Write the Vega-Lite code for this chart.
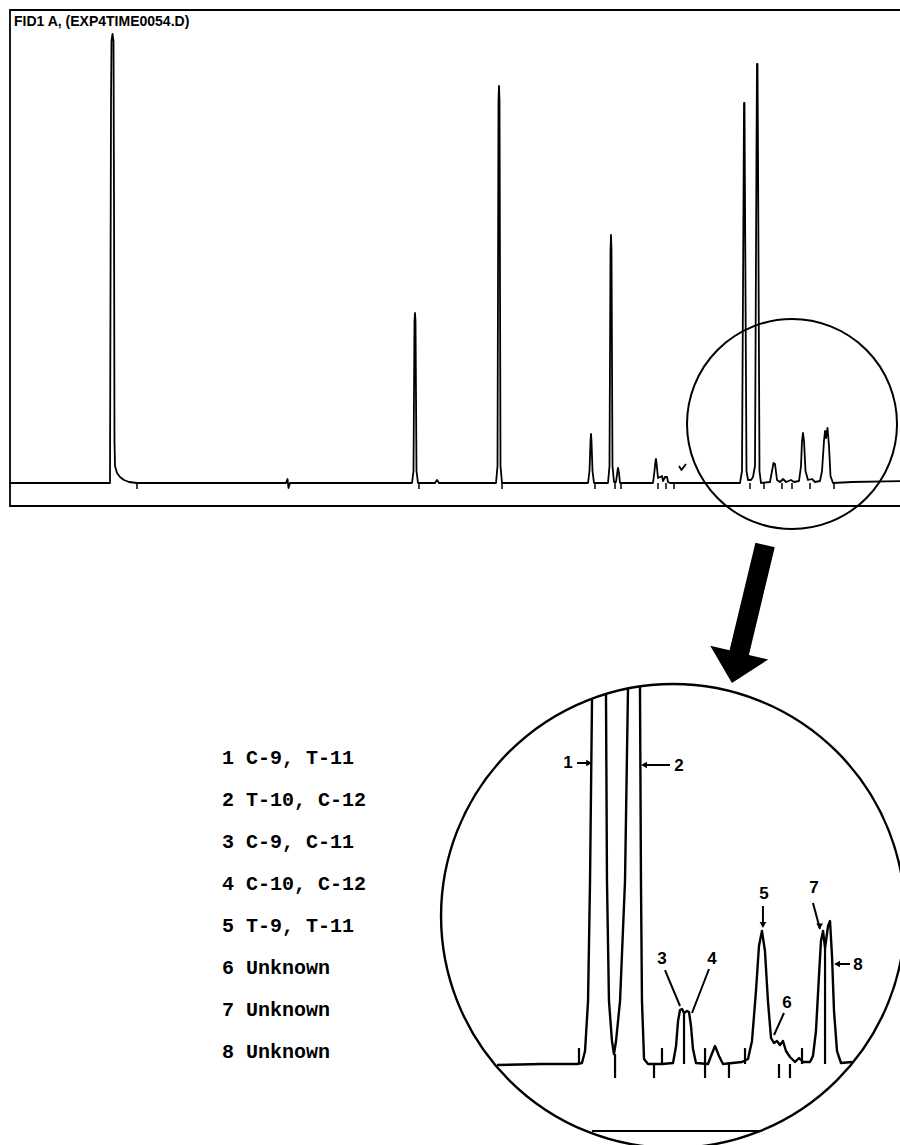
{
  "$schema": "https://vega.github.io/schema/vega-lite/v6.json",
  "background": "white",
  "padding": {"left": 8, "top": 9, "right": 0, "bottom": 0},
  "spacing": 0,
  "bounds": "flush",
  "config": {"view": {"stroke": null}},
  "datasets": {
    "topTrace": [
      {"t": 0, "s": 0, "seg": "trace"}, {"t": 3.333, "s": 0, "seg": "trace"}, {"t": 3.367, "s": 382, "seg": "trace"},
      {"t": 3.383, "s": 442, "seg": "trace"}, {"t": 3.417, "s": 449, "seg": "trace"}, {"t": 3.45, "s": 442, "seg": "trace"},
      {"t": 3.467, "s": 282, "seg": "trace"}, {"t": 3.483, "s": 42, "seg": "trace"}, {"t": 3.5, "s": 17, "seg": "trace"},
      {"t": 3.567, "s": 10, "seg": "trace"}, {"t": 3.667, "s": 6, "seg": "trace"}, {"t": 3.8, "s": 3, "seg": "trace"},
      {"t": 3.967, "s": 1, "seg": "trace"}, {"t": 4.233, "s": 0, "seg": "trace"},
      {"t": 9.2, "s": 0, "seg": "trace"}, {"t": 9.25, "s": 4, "seg": "trace"}, {"t": 9.283, "s": -5, "seg": "trace"}, {"t": 9.333, "s": 0, "seg": "trace"},
      {"t": 13.4, "s": 0, "seg": "trace"}, {"t": 13.45, "s": 12, "seg": "trace"}, {"t": 13.483, "s": 162, "seg": "trace"},
      {"t": 13.5, "s": 170, "seg": "trace"}, {"t": 13.517, "s": 162, "seg": "trace"}, {"t": 13.55, "s": 12, "seg": "trace"}, {"t": 13.6, "s": 0, "seg": "trace"},
      {"t": 14.167, "s": 0, "seg": "trace"}, {"t": 14.233, "s": 3, "seg": "trace"}, {"t": 14.3, "s": 0, "seg": "trace"},
      {"t": 16.2, "s": 0, "seg": "trace"}, {"t": 16.25, "s": 17, "seg": "trace"}, {"t": 16.283, "s": 382, "seg": "trace"},
      {"t": 16.3, "s": 397, "seg": "trace"}, {"t": 16.317, "s": 382, "seg": "trace"}, {"t": 16.35, "s": 17, "seg": "trace"}, {"t": 16.4, "s": 0, "seg": "trace"},
      {"t": 19.267, "s": 0, "seg": "trace"}, {"t": 19.317, "s": 12, "seg": "trace"}, {"t": 19.35, "s": 42, "seg": "trace"},
      {"t": 19.367, "s": 49, "seg": "trace"}, {"t": 19.383, "s": 42, "seg": "trace"}, {"t": 19.417, "s": 12, "seg": "trace"}, {"t": 19.467, "s": 0, "seg": "trace"},
      {"t": 19.933, "s": 0, "seg": "trace"}, {"t": 19.983, "s": 17, "seg": "trace"}, {"t": 20.017, "s": 232, "seg": "trace"},
      {"t": 20.033, "s": 248, "seg": "trace"}, {"t": 20.05, "s": 232, "seg": "trace"}, {"t": 20.083, "s": 17, "seg": "trace"},
      {"t": 20.133, "s": 1, "seg": "trace"}, {"t": 20.2, "s": 1, "seg": "trace"}, {"t": 20.25, "s": 12, "seg": "trace"},
      {"t": 20.267, "s": 15, "seg": "trace"}, {"t": 20.3, "s": 10, "seg": "trace"}, {"t": 20.333, "s": 0, "seg": "trace"},
      {"t": 21.433, "s": 0, "seg": "trace"}, {"t": 21.483, "s": 12, "seg": "trace"}, {"t": 21.517, "s": 22, "seg": "trace"},
      {"t": 21.533, "s": 24, "seg": "trace"}, {"t": 21.55, "s": 20, "seg": "trace"}, {"t": 21.6, "s": 5, "seg": "trace"},
      {"t": 21.667, "s": 6, "seg": "trace"}, {"t": 21.733, "s": 7, "seg": "trace"}, {"t": 21.767, "s": 2, "seg": "trace"},
      {"t": 21.833, "s": 6, "seg": "trace"}, {"t": 21.9, "s": 6, "seg": "trace"}, {"t": 21.933, "s": 1, "seg": "trace"}, {"t": 22.0, "s": 0, "seg": "trace"},
      {"t": 24.333, "s": 0, "seg": "trace"}, {"t": 24.4, "s": 12, "seg": "trace"}, {"t": 24.45, "s": 282, "seg": "trace"},
      {"t": 24.467, "s": 380, "seg": "trace"}, {"t": 24.483, "s": 380, "seg": "trace"}, {"t": 24.5, "s": 282, "seg": "trace"},
      {"t": 24.55, "s": 12, "seg": "trace"}, {"t": 24.6, "s": 3, "seg": "trace"}, {"t": 24.7, "s": 3, "seg": "trace"},
      {"t": 24.767, "s": 6, "seg": "trace"}, {"t": 24.833, "s": 17, "seg": "trace"}, {"t": 24.883, "s": 332, "seg": "trace"},
      {"t": 24.9, "s": 419, "seg": "trace"}, {"t": 24.917, "s": 419, "seg": "trace"}, {"t": 24.933, "s": 332, "seg": "trace"},
      {"t": 24.983, "s": 12, "seg": "trace"}, {"t": 25.033, "s": 0, "seg": "trace"},
      {"t": 25.333, "s": 1, "seg": "trace"}, {"t": 25.4, "s": 12, "seg": "trace"}, {"t": 25.45, "s": 20, "seg": "trace"},
      {"t": 25.5, "s": 19, "seg": "trace"}, {"t": 25.567, "s": 3, "seg": "trace"}, {"t": 25.667, "s": 1, "seg": "trace"},
      {"t": 25.767, "s": 4, "seg": "trace"}, {"t": 25.867, "s": 1, "seg": "trace"}, {"t": 26.033, "s": 3, "seg": "trace"},
      {"t": 26.133, "s": 1, "seg": "trace"}, {"t": 26.3, "s": 2, "seg": "trace"}, {"t": 26.367, "s": 17, "seg": "trace"},
      {"t": 26.4, "s": 42, "seg": "trace"}, {"t": 26.433, "s": 50, "seg": "trace"}, {"t": 26.467, "s": 42, "seg": "trace"},
      {"t": 26.517, "s": 12, "seg": "trace"}, {"t": 26.6, "s": 3, "seg": "trace"}, {"t": 26.733, "s": 4, "seg": "trace"},
      {"t": 26.833, "s": 1, "seg": "trace"}, {"t": 27.0, "s": 2, "seg": "trace"}, {"t": 27.067, "s": 12, "seg": "trace"},
      {"t": 27.133, "s": 42, "seg": "trace"}, {"t": 27.167, "s": 52, "seg": "trace"}, {"t": 27.2, "s": 45, "seg": "trace"},
      {"t": 27.25, "s": 55, "seg": "trace"}, {"t": 27.3, "s": 37, "seg": "trace"}, {"t": 27.35, "s": 7, "seg": "trace"},
      {"t": 27.433, "s": 0, "seg": "trace"}, {"t": 28.067, "s": 1, "seg": "trace"}, {"t": 29.767, "s": 2, "seg": "trace"},
      {"t": 22.3, "s": 17, "seg": "check"}, {"t": 22.383, "s": 13, "seg": "check"}, {"t": 22.533, "s": 19, "seg": "check"}
    ],
    "topTicks": [
      {"t": 4.233, "s": 0, "s2": -6}, {"t": 13.633, "s": 0, "s2": -6}, {"t": 16.4, "s": 0, "s2": -6},
      {"t": 19.5, "s": 0, "s2": -6}, {"t": 20.167, "s": 0, "s2": -6}, {"t": 20.367, "s": 0, "s2": -6},
      {"t": 21.6, "s": 0, "s2": -6}, {"t": 21.867, "s": 0, "s2": -6}, {"t": 22.133, "s": 0, "s2": -6},
      {"t": 24.667, "s": 0, "s2": -6}, {"t": 25.133, "s": 0, "s2": -6}, {"t": 25.733, "s": 0, "s2": -6},
      {"t": 26.067, "s": 0, "s2": -6}, {"t": 26.667, "s": 0, "s2": -6}, {"t": 27.467, "s": 0, "s2": -6}
    ],
    "legendRows": [
      {"n": 1, "label": "1 C-9, T-11"},
      {"n": 2, "label": "2 T-10, C-12"},
      {"n": 3, "label": "3 C-9, C-11"},
      {"n": 4, "label": "4 C-10, C-12"},
      {"n": 5, "label": "5 T-9, T-11"},
      {"n": 6, "label": "6 Unknown"},
      {"n": 7, "label": "7 Unknown"},
      {"n": 8, "label": "8 Unknown"}
    ],
    "insetTrace": [
      {"t": 23.243, "s": -0.37, "seg": "A"}, {"t": 23.784, "s": 0, "seg": "A"}, {"t": 24.205, "s": 0, "seg": "A"},
      {"t": 24.265, "s": 0.37, "seg": "A"}, {"t": 24.302, "s": 4.81, "seg": "A"}, {"t": 24.338, "s": 23.33, "seg": "A"},
      {"t": 24.362, "s": 67.78, "seg": "A"}, {"t": 24.386, "s": 135.33, "seg": "A"},
      {"t": 24.554, "s": 137.07, "seg": "B"}, {"t": 24.566, "s": 67.78, "seg": "B"}, {"t": 24.59, "s": 23.33, "seg": "B"},
      {"t": 24.626, "s": 8.52, "seg": "B"}, {"t": 24.65, "s": 3.7, "seg": "B"}, {"t": 24.675, "s": 8.52, "seg": "B"},
      {"t": 24.723, "s": 23.33, "seg": "B"}, {"t": 24.783, "s": 67.78, "seg": "B"}, {"t": 24.819, "s": 139.11, "seg": "B"},
      {"t": 24.963, "s": 139.85, "seg": "C"}, {"t": 24.975, "s": 67.78, "seg": "C"}, {"t": 24.987, "s": 23.33, "seg": "C"},
      {"t": 25.012, "s": 1.85, "seg": "C"}, {"t": 25.06, "s": 0, "seg": "C"}, {"t": 25.228, "s": 0, "seg": "C"},
      {"t": 25.361, "s": 0.37, "seg": "C"}, {"t": 25.397, "s": 6.67, "seg": "C"}, {"t": 25.421, "s": 15.93, "seg": "C"},
      {"t": 25.445, "s": 20.0, "seg": "C"}, {"t": 25.469, "s": 20.37, "seg": "C"}, {"t": 25.493, "s": 18.89, "seg": "C"},
      {"t": 25.529, "s": 19.63, "seg": "C"}, {"t": 25.553, "s": 19.26, "seg": "C"}, {"t": 25.577, "s": 14.07, "seg": "C"},
      {"t": 25.601, "s": 5.56, "seg": "C"}, {"t": 25.637, "s": 0.37, "seg": "C"}, {"t": 25.782, "s": 0, "seg": "C"},
      {"t": 25.818, "s": 2.96, "seg": "C"}, {"t": 25.866, "s": 6.67, "seg": "C"}, {"t": 25.914, "s": 2.96, "seg": "C"},
      {"t": 25.962, "s": 0, "seg": "C"}, {"t": 26.191, "s": 0.74, "seg": "C"}, {"t": 26.263, "s": 1.85, "seg": "C"},
      {"t": 26.311, "s": 8.52, "seg": "C"}, {"t": 26.359, "s": 27.04, "seg": "C"}, {"t": 26.395, "s": 43.7, "seg": "C"},
      {"t": 26.431, "s": 49.26, "seg": "C"}, {"t": 26.467, "s": 41.85, "seg": "C"}, {"t": 26.503, "s": 23.33, "seg": "C"},
      {"t": 26.54, "s": 9.63, "seg": "C"}, {"t": 26.576, "s": 7.78, "seg": "C"}, {"t": 26.612, "s": 8.52, "seg": "C"},
      {"t": 26.648, "s": 7.04, "seg": "C"}, {"t": 26.684, "s": 8.52, "seg": "C"}, {"t": 26.72, "s": 4.81, "seg": "C"},
      {"t": 26.768, "s": 2.59, "seg": "C"}, {"t": 26.829, "s": 0.74, "seg": "C"}, {"t": 26.877, "s": 2.22, "seg": "C"},
      {"t": 26.925, "s": 0.74, "seg": "C"}, {"t": 27.009, "s": 0.74, "seg": "C"}, {"t": 27.045, "s": 2.96, "seg": "C"},
      {"t": 27.081, "s": 12.22, "seg": "C"}, {"t": 27.117, "s": 32.59, "seg": "C"}, {"t": 27.141, "s": 45.56, "seg": "C"},
      {"t": 27.166, "s": 49.26, "seg": "C"}, {"t": 27.19, "s": 42.96, "seg": "C"}, {"t": 27.226, "s": 51.11, "seg": "C"},
      {"t": 27.25, "s": 52.96, "seg": "C"}, {"t": 27.274, "s": 40.0, "seg": "C"}, {"t": 27.298, "s": 19.63, "seg": "C"},
      {"t": 27.334, "s": 4.81, "seg": "C"}, {"t": 27.382, "s": 0.37, "seg": "C"}, {"t": 27.515, "s": 0.74, "seg": "C"}
    ],
    "insetRules": [
      {"t": 24.229, "s": 0, "t2": 24.229, "s2": 5.9}, {"t": 25.228, "s": 0, "t2": 25.228, "s2": 5.9},
      {"t": 25.746, "s": -5.2, "t2": 25.746, "s2": 5.9}, {"t": 26.227, "s": 0, "t2": 26.227, "s2": 5.9},
      {"t": 26.913, "s": 0, "t2": 26.913, "s2": 5.9},
      {"t": 24.663, "s": 3.7, "t2": 24.663, "s2": -5.2}, {"t": 25.132, "s": 0, "t2": 25.132, "s2": -5.2},
      {"t": 26.034, "s": 0, "t2": 26.034, "s2": -5.2}, {"t": 26.636, "s": 0, "t2": 26.636, "s2": -5.2},
      {"t": 26.768, "s": 0, "t2": 26.768, "s2": -5.2},
      {"t": 25.493, "s": 0, "t2": 25.493, "s2": 18.89}, {"t": 27.19, "s": 0, "t2": 27.19, "s2": 42.96},
      {"t": 24.386, "s": -24.81, "t2": 26.431, "s2": -24.81}
    ],
    "calloutText": [
      {"id": "1", "t": 24.097, "s": 111.48}, {"id": "2", "t": 25.433, "s": 110.37},
      {"id": "3", "t": 25.228, "s": 38.89}, {"id": "4", "t": 25.83, "s": 38.89},
      {"id": "5", "t": 26.456, "s": 62.96}, {"id": "6", "t": 26.732, "s": 22.59},
      {"id": "7", "t": 27.057, "s": 65.19}, {"id": "8", "t": 27.587, "s": 36.67}
    ],
    "calloutLines": [
      {"t": 24.205, "s": 111.48, "t2": 24.362, "s2": 111.48},
      {"t": 25.324, "s": 110.74, "t2": 25.0, "s2": 110.74},
      {"t": 25.264, "s": 34.81, "t2": 25.445, "s2": 21.48},
      {"t": 25.794, "s": 35.19, "t2": 25.589, "s2": 18.89},
      {"t": 26.443, "s": 58.52, "t2": 26.443, "s2": 51.11},
      {"t": 26.696, "s": 18.89, "t2": 26.576, "s2": 10.74},
      {"t": 27.045, "s": 59.63, "t2": 27.129, "s2": 50.0},
      {"t": 27.49, "s": 37.04, "t2": 27.322, "s2": 37.04}
    ],
    "calloutHeads": [
      {"t": 24.35, "s": 111.48, "dir": "right"},
      {"t": 25.012, "s": 110.74, "dir": "left"},
      {"t": 26.443, "s": 51.48, "dir": "down"},
      {"t": 27.125, "s": 51.0, "dir": "down"},
      {"t": 27.334, "s": 37.04, "dir": "left"}
    ]
  },
  "vconcat": [
    {
      "width": 894,
      "height": 496,
      "view": {"stroke": "black", "strokeWidth": 1.8},
      "encoding": {
        "x": {"field": "t", "type": "quantitative", "scale": {"domain": [0, 29.8]}, "axis": null},
        "y": {"field": "s", "type": "quantitative", "scale": {"domain": [-23, 473]}, "axis": null}
      },
      "layer": [
        {
          "data": {"name": "topTrace"},
          "mark": {"type": "line", "color": "black", "strokeWidth": 1.8, "strokeJoin": "round"},
          "encoding": {"detail": {"field": "seg", "type": "nominal"}}
        },
        {
          "data": {"name": "topTicks"},
          "mark": {"type": "rule", "color": "black", "strokeWidth": 1.5},
          "encoding": {"y2": {"field": "s2"}}
        },
        {
          "data": {"values": [{"t": 26.067, "s": 59}]},
          "mark": {"type": "point", "shape": "circle", "filled": false, "size": 44100, "stroke": "black", "strokeWidth": 2, "opacity": 1}
        },
        {
          "data": {"values": [{"t": 0.133, "s": 457.5, "label": "FID1 A, (EXP4TIME0054.D)"}]},
          "mark": {"type": "text", "align": "left", "baseline": "alphabetic", "font": "Liberation Sans", "fontWeight": "bold", "fontSize": 14, "color": "black"},
          "encoding": {"text": {"field": "label"}}
        }
      ]
    },
    {
      "spacing": 0,
      "bounds": "flush",
      "hconcat": [
        {
          "width": 424,
          "height": 640,
          "data": {"name": "legendRows"},
          "mark": {"type": "text", "align": "left", "baseline": "middle", "font": "Liberation Mono", "fontWeight": "bold", "fontSize": 20, "color": "black"},
          "encoding": {
            "y": {"field": "n", "type": "quantitative", "scale": {"domain": [-5, 10.238], "reverse": true}, "axis": null},
            "text": {"field": "label"}
          }
        },
        {
          "width": 469,
          "height": 640,
          "encoding": {
            "x": {"field": "t", "type": "quantitative", "scale": {"domain": [22.4844, 28.1282]}, "axis": null},
            "y": {"field": "s", "type": "quantitative", "scale": {"domain": [-30.37, 206.667]}, "axis": null}
          },
          "layer": [
            {
              "data": {"values": [{"t": 25.361, "s": 54.81}]},
              "mark": {"type": "point", "shape": "circle", "filled": false, "size": 215296, "stroke": "black", "strokeWidth": 2.4, "opacity": 1}
            },
            {
              "data": {"values": [{"t": 26.269, "s": 166.67}]},
              "mark": {"type": "point", "shape": "M-0.14,-1L0.14,-1L0.14,0.56L0.42,0.56L0,1L-0.42,0.56L-0.14,0.56Z", "filled": true, "size": 20164, "angle": 13.5, "color": "black", "opacity": 1}
            },
            {
              "data": {"name": "insetTrace"},
              "mark": {"type": "line", "color": "black", "strokeWidth": 2.4, "strokeJoin": "round"},
              "encoding": {"detail": {"field": "seg", "type": "nominal"}}
            },
            {
              "data": {"name": "insetRules"},
              "mark": {"type": "rule", "color": "black", "strokeWidth": 2.2},
              "encoding": {"x2": {"field": "t2"}, "y2": {"field": "s2"}}
            },
            {
              "data": {"name": "calloutLines"},
              "mark": {"type": "rule", "color": "black", "strokeWidth": 2},
              "encoding": {"x2": {"field": "t2"}, "y2": {"field": "s2"}}
            },
            {
              "data": {"name": "calloutHeads"},
              "mark": {"type": "point", "filled": true, "size": 45, "color": "black", "opacity": 1},
              "encoding": {
                "shape": {"field": "dir", "type": "nominal", "scale": {"domain": ["right", "left", "down"], "range": ["triangle-right", "triangle-left", "triangle-down"]}, "legend": null}
              }
            },
            {
              "data": {"name": "calloutText"},
              "mark": {"type": "text", "align": "center", "baseline": "middle", "font": "Liberation Sans", "fontWeight": "bold", "fontSize": 17, "color": "black"},
              "encoding": {"text": {"field": "id"}}
            }
          ]
        }
      ]
    }
  ]
}
